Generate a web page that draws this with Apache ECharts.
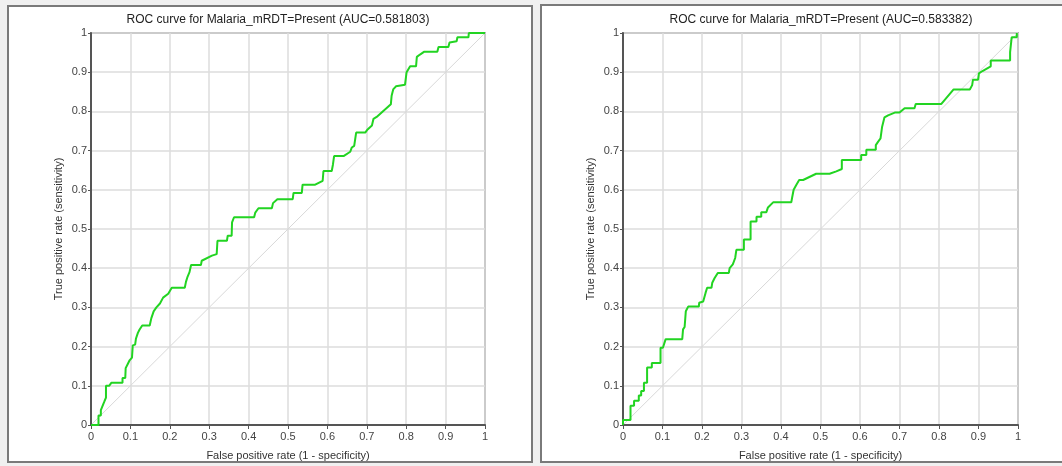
<!DOCTYPE html>
<html>
<head>
<meta charset="utf-8">
<script src="https://cdn.jsdelivr.net/npm/echarts@6/dist/echarts.min.js"></script>
<style>
html,body{margin:0;padding:0;background:#ffffff;}
#chart{width:1062px;height:466px;}
</style>
</head>
<body>
<div id="chart"></div>
<script>
// ---- Data ----
const titleLeft = 'ROC curve for Malaria_mRDT=Present (AUC=0.581803)';
const titleRight = 'ROC curve for Malaria_mRDT=Present (AUC=0.583382)';
const xAxisName = 'False positive rate (1 - specificity)';
const yAxisName = 'True positive rate (sensitivity)';
const tickValues = [0, 0.1, 0.2, 0.3, 0.4, 0.5, 0.6, 0.7, 0.8, 0.9, 1];

// Left ROC curve vertices (false positive rate, true positive rate)
const fprLeft = [0,0.019,0.019,0.025,0.025,0.03,0.034,0.038,0.038,0.046,0.052,0.08,0.08,0.087,0.088,0.093,0.098,0.104,0.106,0.112,0.114,0.119,0.123,0.13,0.149,0.153,0.159,0.166,0.175,0.183,0.196,0.205,0.238,0.241,0.245,0.25,0.254,0.279,0.281,0.307,0.319,0.321,0.345,0.347,0.357,0.358,0.363,0.414,0.417,0.425,0.459,0.462,0.473,0.512,0.514,0.535,0.537,0.569,0.588,0.59,0.611,0.614,0.617,0.641,0.658,0.662,0.668,0.673,0.696,0.702,0.713,0.717,0.725,0.761,0.763,0.767,0.774,0.797,0.801,0.81,0.825,0.827,0.835,0.845,0.879,0.882,0.907,0.91,0.928,0.93,0.958,0.959,1];
const tprLeft = [0,0,0.024,0.024,0.038,0.042,0.06,0.07,0.1,0.1,0.108,0.108,0.12,0.12,0.145,0.155,0.165,0.172,0.203,0.205,0.22,0.235,0.243,0.254,0.254,0.272,0.29,0.3,0.31,0.325,0.335,0.35,0.35,0.365,0.378,0.39,0.408,0.408,0.419,0.432,0.436,0.47,0.47,0.483,0.483,0.517,0.53,0.53,0.542,0.553,0.553,0.566,0.576,0.576,0.592,0.592,0.613,0.613,0.623,0.648,0.648,0.664,0.686,0.686,0.697,0.708,0.712,0.746,0.746,0.754,0.764,0.781,0.786,0.818,0.84,0.856,0.864,0.868,0.9,0.915,0.915,0.939,0.945,0.952,0.952,0.964,0.964,0.976,0.979,0.989,0.989,1,1];

// Right ROC curve vertices
const fprRight = [0,0,0.019,0.019,0.028,0.028,0.04,0.04,0.046,0.046,0.053,0.053,0.061,0.061,0.073,0.073,0.095,0.095,0.101,0.108,0.15,0.152,0.156,0.159,0.165,0.192,0.193,0.203,0.209,0.213,0.224,0.226,0.232,0.24,0.268,0.27,0.278,0.284,0.287,0.306,0.306,0.323,0.323,0.338,0.338,0.35,0.35,0.363,0.367,0.38,0.426,0.428,0.432,0.439,0.446,0.456,0.489,0.523,0.54,0.554,0.554,0.603,0.603,0.616,0.616,0.64,0.64,0.646,0.652,0.656,0.662,0.671,0.688,0.7,0.713,0.738,0.741,0.806,0.837,0.878,0.884,0.886,0.899,0.901,0.91,0.931,0.931,0.965,0.969,0.98,0.98,0.984,0.984,0.997,0.997];
const tprRight = [0,0.013,0.013,0.049,0.049,0.062,0.062,0.075,0.075,0.087,0.087,0.108,0.108,0.147,0.147,0.158,0.158,0.197,0.197,0.219,0.219,0.244,0.25,0.29,0.302,0.302,0.312,0.315,0.337,0.35,0.35,0.363,0.375,0.388,0.388,0.4,0.41,0.426,0.447,0.447,0.473,0.473,0.519,0.519,0.531,0.531,0.543,0.543,0.555,0.568,0.568,0.579,0.6,0.613,0.625,0.625,0.641,0.641,0.647,0.653,0.676,0.676,0.689,0.689,0.702,0.702,0.714,0.723,0.731,0.761,0.785,0.79,0.797,0.797,0.808,0.808,0.819,0.819,0.856,0.856,0.867,0.881,0.881,0.897,0.903,0.915,0.93,0.93,0.93,0.93,0.951,0.951,0.989,0.989,1];

const diagonal = [[0,0],[1,1]];

function zip(xs, ys){ return xs.map((x,i)=>[x, ys[i]]); }

const chart = echarts.init(document.getElementById('chart'), null, {renderer:'canvas'});

const fontFamily = 'Liberation Sans, Arial, sans-serif';
function makeX(gridIndex){
  return {
    type:'value', gridIndex, min:0, max:1, interval:0.1,
    name: xAxisName, nameLocation:'middle', nameGap:25,
    nameTextStyle:{color:'#333', fontSize:11, fontFamily},
    axisLine:{show:true, onZero:false, lineStyle:{color:'#555', width:2}},
    axisTick:{show:true, length:4, lineStyle:{color:'#555', width:1}},
    axisLabel:{color:'#444', fontSize:11, fontFamily, margin:6,
      formatter:v=>String(+v.toFixed(1))},
    splitLine:{show:true, lineStyle:{color:'#dcdcdc', width:1.5}}
  };
}
function makeY(gridIndex){
  return {
    type:'value', gridIndex, min:0, max:1, interval:0.1,
    name: yAxisName, nameLocation:'middle', nameGap:27, nameRotate:90,
    nameTextStyle:{color:'#333', fontSize:11, fontFamily},
    axisLine:{show:true, onZero:false, lineStyle:{color:'#555', width:2}},
    axisTick:{show:true, length:3, lineStyle:{color:'#555', width:1}},
    axisLabel:{color:'#444', fontSize:11, fontFamily, margin:4,
      formatter:v=>String(+v.toFixed(1))},
    splitLine:{show:true, lineStyle:{color:'#dcdcdc', width:1.5}}
  };
}
const green = '#22d422';
const option = {
  animation:false,
  backgroundColor:'#ffffff',
  title:[
    {text:titleLeft, left:273, top:9, textAlign:'center',
     textStyle:{fontSize:12, fontWeight:'normal', color:'#222', fontFamily}},
    {text:titleRight, left:816, top:9, textAlign:'center',
     textStyle:{fontSize:12, fontWeight:'normal', color:'#222', fontFamily}}
  ],
  grid:[
    {left:91, top:33, width:394, height:394, show:true, borderColor:'#777', borderWidth:1.5, backgroundColor:'#fff'},
    {left:623, top:33, width:395, height:393, show:true, borderColor:'#777', borderWidth:1.5, backgroundColor:'#fff'}
  ],
  xAxis:[makeX(0), makeX(1)],
  yAxis:[makeY(0), makeY(1)],
  series:[
    {type:'line', xAxisIndex:0, yAxisIndex:0, data:diagonal, symbol:'none',
     lineStyle:{color:'#d8d8d8', width:1}, silent:true},
    {type:'line', xAxisIndex:0, yAxisIndex:0, data:zip(fprLeft,tprLeft), symbol:'none',
     lineStyle:{color:green, width:2}},
    {type:'line', xAxisIndex:1, yAxisIndex:1, data:diagonal, symbol:'none',
     lineStyle:{color:'#d8d8d8', width:1}, silent:true},
    {type:'line', xAxisIndex:1, yAxisIndex:1, data:zip(fprRight,tprRight), symbol:'none',
     lineStyle:{color:green, width:2}}
  ],
  graphic:[
    {type:'rect', z:-10, shape:{x:0,y:0,width:1062,height:466}, style:{fill:'#f0f0f0'}},
    {type:'rect', z:-9, shape:{x:8,y:6,width:524,height:456}, style:{fill:'#ffffff', stroke:'#7a7a7a', lineWidth:2}},
    {type:'rect', z:-9, shape:{x:541,y:5,width:530,height:457}, style:{fill:'#ffffff', stroke:'#7a7a7a', lineWidth:2}}
  ]
};
chart.setOption(option);
</script>
</body>
</html>
